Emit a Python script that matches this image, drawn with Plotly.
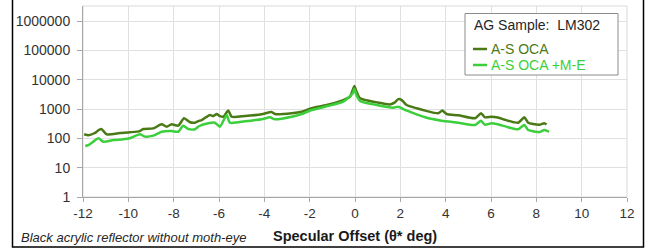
import plotly.graph_objects as go

# ---- data ----
dark_x = [-11.95, -11.75, -11.5, -11.2, -10.95, -10.37, -9.93, -9.49, -9.34, -8.9, -8.53, -8.31,
          -8.09, -7.8, -7.54, -7.28, -7.06, -6.91, -6.76, -6.4, -6.25, -6.1, -5.96, -5.81, -5.59,
          -5.44, -4.85, -4.12, -3.68, -3.53, -2.79, -2.35, -1.91, -1.25, -0.52, -0.22, -0.1, -0.03,
          0.07, 0.22, 0.96, 1.54, 1.76, 1.91, 2.06, 2.28, 2.72, 3.1, 3.67, 3.85, 4.04, 4.55, 5.29,
          5.56, 5.73, 6.03, 6.25, 6.76, 7.2, 7.47, 7.64, 7.86, 8.16, 8.35, 8.45]
dark_y = [138, 128, 150, 209, 138, 152, 162, 178, 209, 220, 303, 252,
          303, 272, 487, 355, 344, 391, 424, 630, 580, 680, 580, 550, 890,
          550, 580, 665, 800, 680, 720, 810, 1070, 1380, 2040, 2650, 4470, 6150,
          3900, 2330, 1700, 1450, 1700, 2200, 2040, 1380, 1070, 890, 720, 890, 680, 615, 487,
          720, 525, 550, 525, 400, 344, 525, 344, 310, 295, 330, 300]

light_x = [-11.9, -11.77, -11.55, -11.32, -11.1, -10.66, -10.22, -9.93, -9.49, -9.27, -8.9, -8.53,
           -8.09, -7.8, -7.58, -7.35, -7.06, -6.87, -6.47, -6.18, -5.96, -5.66, -5.52, -4.85,
           -4.12, -3.75, -3.53, -2.79, -2.35, -1.91, -0.52, -0.1, -0.03, 0.07, 0.22, 0.96, 1.69,
           1.91, 2.13, 2.72, 3.09, 3.82, 4.55, 5.29, 5.56, 5.73, 6.03, 6.25, 6.76, 7.2, 7.47,
           7.64, 8.16, 8.35, 8.56]
light_y = [55, 59, 77, 101, 77, 88, 93, 101, 138, 115, 124, 169,
           178, 169, 272, 209, 205, 265, 330, 344, 252, 630, 344, 383,
           450, 525, 450, 550, 680, 930, 1790, 3470, 4850, 2900, 1900, 1380, 1120,
           1210, 1000, 665, 525, 400, 344, 288, 400, 295, 330, 310, 240, 205, 288,
           194, 166, 194, 170]

series_names = ["A-S OCA", "A-S OCA +M-E"]
legend_title = "AG Sample:\u00a0 LM302"
x_label = "Specular Offset (\u03b8* deg)"
note = "Black acrylic reflector without moth-eye"
x_ticks = list(range(-12, 13, 2))
y_ticks = [1, 10, 100, 1000, 10000, 100000, 1000000]

DARK = "#4a7a16"
LIGHT = "#3ccf3c"
FONT = "Liberation Sans, Arial, sans-serif"

fig = go.Figure()
fig.add_trace(go.Scatter(x=dark_x, y=dark_y, mode="lines", name=series_names[0],
                         line=dict(color=DARK, width=2.5, shape="spline", smoothing=0.6),
                         showlegend=False))
fig.add_trace(go.Scatter(x=light_x, y=light_y, mode="lines", name=series_names[1],
                         line=dict(color=LIGHT, width=2.5, shape="spline", smoothing=0.6),
                         showlegend=False))

W, H = 649, 250
L, R, T, B = 83, 22, 6, 53
pw, ph = W - L - R, H - T - B

def px(xp):
    return (xp - L) / pw

def py(yp):
    return (H - B - yp) / ph

fig.update_layout(
    width=W, height=H,
    margin=dict(l=L, r=R, t=T, b=B),
    paper_bgcolor="white", plot_bgcolor="white",
    font=dict(family=FONT, color="#333333"),
    xaxis=dict(range=[-12, 12], tickvals=x_ticks, ticktext=[str(v) for v in x_ticks],
               showgrid=True, gridcolor="#e0e0e0", gridwidth=1, zeroline=False,
               showline=True, linecolor="#a6a6a6", linewidth=1,
               ticks="outside", ticklen=4, tickcolor="#a6a6a6",
               tickfont=dict(size=13.5, family=FONT, color="#333333")),
    yaxis=dict(type="log", range=[0, 6.52], tickvals=y_ticks, ticktext=[str(v) for v in y_ticks],
               showgrid=True, gridcolor="#e0e0e0", gridwidth=1, zeroline=False,
               showline=True, linecolor="#a6a6a6", linewidth=1,
               ticks="outside", ticklen=5, tickcolor="#a6a6a6", ticklabelstandoff=4,
               tickfont=dict(size=14, family=FONT, color="#333333")),
)

shapes = []
# plot-area border (top/right)
shapes.append(dict(type="rect", xref="paper", yref="paper", x0=0, x1=1, y0=0, y1=1,
                   line=dict(color="#d9d9d9", width=1), layer="below"))
# outer frame
shapes.append(dict(type="rect", xref="paper", yref="paper", x0=px(12.5), x1=px(643.5),
                   y0=py(247), y1=py(-2), line=dict(color="#000000", width=1.5)))
# legend box
shapes.append(dict(type="rect", xref="paper", yref="paper", x0=px(465), x1=px(618),
                   y0=py(75), y1=py(13.5), line=dict(color="#8c8c8c", width=1),
                   fillcolor="white"))
# legend line samples
for yy, col in [(49, DARK), (65, LIGHT)]:
    shapes.append(dict(type="line", xref="paper", yref="paper", x0=px(473), x1=px(487),
                       y0=py(yy), y1=py(yy), line=dict(color=col, width=2.5)))
fig.update_layout(shapes=shapes)

ann = []
ann.append(dict(text=legend_title, xref="paper", yref="paper", x=px(472), y=py(25),
                xanchor="left", yanchor="middle", showarrow=False,
                font=dict(size=14, family=FONT, color="#262626")))
for yy, col, name in [(48.5, DARK, series_names[0]), (64.5, LIGHT, series_names[1])]:
    ann.append(dict(text=name, xref="paper", yref="paper", x=px(489), y=py(yy),
                    xanchor="left", yanchor="middle", showarrow=False,
                    font=dict(size=14, family=FONT, color=col)))
ann.append(dict(text="<b>" + x_label + "</b>", xref="paper", yref="paper", x=px(355), y=py(236),
                xanchor="center", yanchor="middle", showarrow=False,
                font=dict(size=14.5, family=FONT, color="#1a1a1a")))
ann.append(dict(text="<i>" + note + "</i>", xref="paper", yref="paper", x=px(19), y=py(237),
                xanchor="left", yanchor="middle", showarrow=False,
                font=dict(size=13, family=FONT, color="#262626")))
fig.update_layout(annotations=ann)

fig.write_html("out.html", config={"displayModeBar": False},
               post_script="document.body.style.margin='0px';")
